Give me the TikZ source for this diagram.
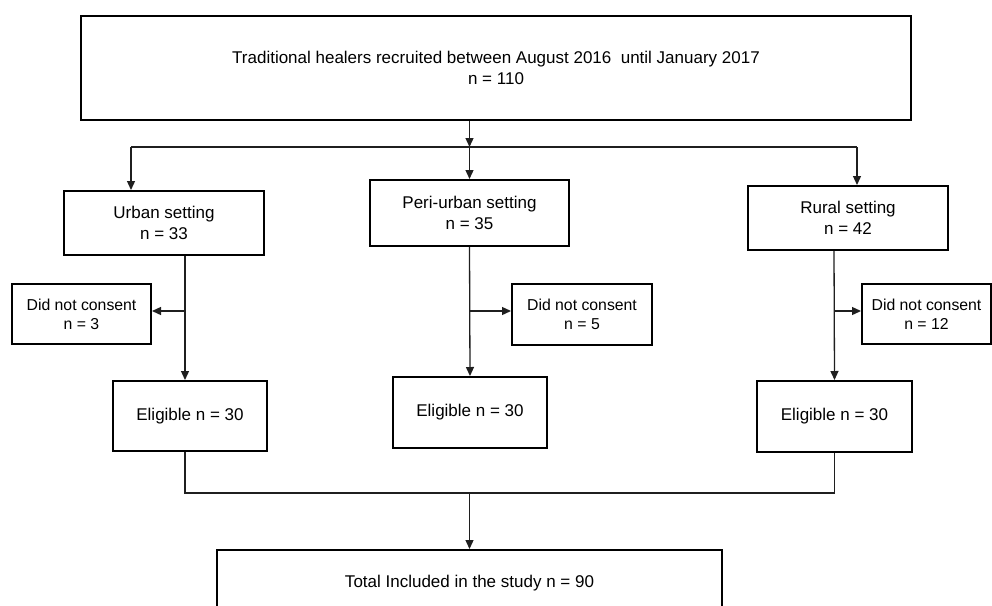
\documentclass[tikz,border=0pt]{standalone}
\usepackage{fontspec}
\setmainfont{Liberation Sans}
\usetikzlibrary{arrows.meta}
\tikzset{
  box/.style={draw=black, line width=2pt, inner sep=0pt, align=center,
    font=\fontsize{17}{21.5}\selectfont},
  smallbox/.style={box, font=\fontsize{15.8}{19}\selectfont},
  conn/.style={draw=black!88, line width=1.3pt},
  arr/.style={conn, -{Triangle[length=9pt,width=8pt]}}
}
\begin{document}
\begin{tikzpicture}[x=1pt,y=-1pt]
\useasboundingbox (0,0) rectangle (992,605);
% boxes
\node[box, minimum width=830pt, minimum height=104pt] (top) at (496,68)
  {Traditional healers recruited between August 2016 \ until January 2017\\ n = 110};
\node[box, minimum width=200pt, minimum height=64pt] (urban) at (164,223) {Urban setting\\ n = 33};
\node[box, minimum width=199pt, minimum height=66pt] (peri) at (469.5,213) {Peri-urban setting\\ n = 35};
\node[box, minimum width=200pt, minimum height=64pt] (rural) at (848,218) {Rural setting\\ n = 42};
\node[smallbox, minimum width=139pt, minimum height=60pt] (d1) at (81.5,314) {Did not consent\\ n = 3};
\node[smallbox, minimum width=140pt, minimum height=61pt] (d2) at (582,314.5) {Did not consent\\ n = 5};
\node[smallbox, minimum width=129pt, minimum height=60pt] (d3) at (926.5,314) {Did not consent\\ n = 12};
\node[box, minimum width=154pt, minimum height=70pt] (e1) at (190,416) {Eligible n = 30};
\node[box, minimum width=154pt, minimum height=71pt] (e2) at (470,412.5) {Eligible n = 30};
\node[box, minimum width=155pt, minimum height=71pt] (e3) at (834.5,416.5) {Eligible n = 30};
\node[box, minimum width=505pt, minimum height=66pt] (tot) at (469.5,583) {Total Included in the study n = 90};
% top split
\coordinate (jl) at (131,147);
\coordinate (jm) at (469.5,147);
\coordinate (jr) at (857,147);
\draw[arr] (top.south -| jm) -- (jm);
\draw[conn] (jl) -- (jr);
\draw[arr] (jl) -- (jl |- urban.north);
\draw[arr] (jm) -- (peri.north);
\draw[arr] (jr) -- (jr |- rural.north);
% urban column
\coordinate (b1) at (185,311);
\draw[arr] ([xshift=21pt]urban.south) -- ([xshift=-5pt]e1.north);
\draw[arr] (b1) -- (b1 -| d1.east);
% peri column
\coordinate (b2) at (469.5,311);
\draw[arr] (peri.south) -- (e2.north);
\draw[arr] (b2) -- (b2 -| d2.west);
% rural column
\coordinate (b3) at (834,311);
\draw[arr] ([xshift=-14pt]rural.south) -- (e3.north);
\draw[arr] (b3) -- (b3 -| d3.west);
% merge
\coordinate (m) at (469.5,493);
\draw[conn] ([xshift=-5pt]e1.south) |- (m) -| (e3.south);
\draw[arr] (m) -- (tot.north);
\end{tikzpicture}
\end{document}
